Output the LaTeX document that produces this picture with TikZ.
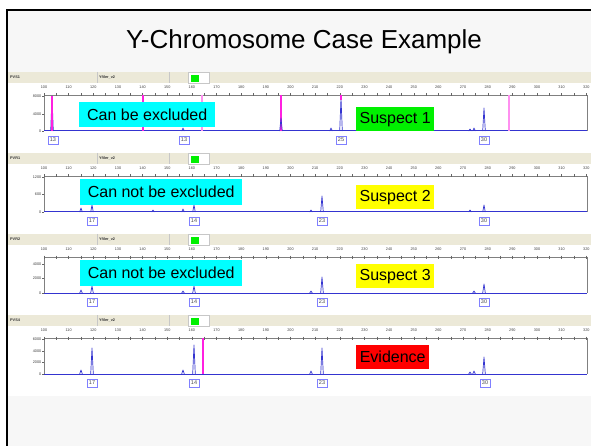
\documentclass[tikz,border=0pt]{standalone}
\usepackage{fontspec}
\setmainfont{Liberation Sans}
\definecolor{slidebg}{HTML}{F7F7F7}
\definecolor{hdr}{HTML}{ECE9D8}
\definecolor{trace}{HTML}{3434D0}
\definecolor{mag}{HTML}{FF20E0}
\definecolor{pinkl}{HTML}{FF90F0}
\definecolor{abox}{HTML}{8080FF}
\definecolor{lime}{HTML}{00F000}
\definecolor{tagcyan}{HTML}{00FFFF}
\definecolor{tagyellow}{HTML}{FFFF00}
\definecolor{tagred}{HTML}{FF0000}
\tikzset{
  tinytxt/.style={font=\fontsize{3.8}{4}\selectfont, text=black!75, inner sep=0pt},
  hdrtxt/.style={font=\fontsize{3.8}{4}\selectfont\bfseries, text=black!80, inner sep=0pt, anchor=west},
  allele/.style={draw=abox, fill=white, line width=0.8pt, font=\fontsize{5.5}{5.5}\selectfont, text=black!70, minimum width=10pt, minimum height=8pt, inner sep=0pt},
  tagbox/.style={font=\fontsize{16}{16}\selectfont, inner sep=0pt, anchor=north west},
  axisline/.style={black!50, line width=0.5pt},
  baseline/.style={trace, line width=1pt},
  magline/.style={mag, line width=1.3pt},
  pinkline/.style={pinkl, line width=1.3pt},
}
\newcommand\pk[3][trace]{\draw[#1, line width=0.7pt, line join=round] ({#2-1.3},59) -- (#2,#3) -- ({#2+1.3},59);}
\newcommand\drawpanel[2]{%
  \fill[hdr] (8,0) rectangle (591,11);
  \draw[black!22, line width=0.5pt] (97,0) -- (97,11) (169,0) -- (169,11);
  \fill[white] (188,0.5) rectangle (209,11);
  \draw[black!22, line width=0.4pt] (188,0.5) rectangle (209,11);
  \fill[lime] (191,3) rectangle (199,10);
  \node[hdrtxt] (nm#1) at (10,5) {#2};
  \node[hdrtxt] (kit#1) at (99,5) {Yfiler\_v2};
  \foreach \v in {100,110,...,320} \node[tinytxt] (tk#1-\v) at ({44+(\v-100)*2.465},15.5) {\v};
  \draw[axisline] (44,59) -- (44,23) -- (587,23) -- (587,59);
  \foreach \v in {100,105,...,320} \draw[black!60, line width=0.4pt] ({44+(\v-100)*2.465},21.5) -- ++(0,3);
  \draw[baseline] (44,59) -- (587,59);
}
\newcommand\ylab[3]{\node[tinytxt, anchor=east] (y#1) at (41.5,#2) {#3}; \draw[black!60, line width=0.4pt] (42,#2) -- (44,#2);}
\begin{document}
\begin{tikzpicture}[x=1pt,y=-1pt]
\useasboundingbox (0,0) rectangle (591,446);
\fill[white] (0,0) rectangle (591,446);
\fill[slidebg] (7,10) rectangle (591,446);
\fill[white] (8,72) rectangle (591,396);
\draw[line width=2.5pt] (7,446) -- (7,10) -- (591,10);
\node[font=\fontsize{26}{30}\selectfont, inner sep=0pt] (title) at (304,42) {Y-Chromosome Case Example};

% Panel 1
\begin{scope}[shift={(0,72)}]
  \drawpanel{1}{PVS1}
  \ylab{1a}{24}{8000} \ylab{1b}{42}{4000} \ylab{1c}{59}{0}
  \pk{52}{24} \draw[magline] (52,24) -- (52,59);
  \draw[magline] (143,23) -- (143,59);
  \draw[pinkline] (202,23) -- (202,59);
  \pk{183}{56}
  \draw[magline] (281,23) -- (281,59); \pk{281}{46}
  \pk{331}{56}
  \pk{341}{26} \draw[magline] (341,23) -- (341,28);
  \pk{470}{57} \pk{474}{56}
  \pk{484}{36}
  \draw[pinkline] (509,23) -- (509,59);
  \node[allele] (a1-1) at (53,68) {13};
  \node[allele] (a1-2) at (184,68) {13};
  \node[allele] (a1-3) at (341,68) {25};
  \node[allele] (a1-4) at (484,68) {30};
  \node[tagbox, fill=tagcyan, minimum width=136pt, minimum height=25pt] (c1) at (79,30) {Can be excluded};
  \node[tagbox, fill=lime, minimum width=78pt, minimum height=24pt] (s1) at (356,35) {Suspect 1};
\end{scope}

% Panel 2
\begin{scope}[shift={(0,153)}]
  \drawpanel{2}{PVR1}
  \ylab{2a}{24}{1200} \ylab{2b}{41.5}{600} \ylab{2c}{59}{0}
  \pk{81}{55} \pk{92}{52} \pk{153}{57} \pk{183}{56} \pk{194}{52}
  \pk{311}{57} \pk{322}{43} \pk{470}{57} \pk{484}{52}
  \node[allele] (a2-1) at (92,68) {17};
  \node[allele] (a2-2) at (194,68) {14};
  \node[allele] (a2-3) at (322,68) {23};
  \node[allele] (a2-4) at (484,68) {30};
  \node[tagbox, fill=tagcyan, minimum width=162pt, minimum height=26pt] (c2) at (80,26) {Can not be excluded};
  \node[tagbox, fill=tagyellow, minimum width=78pt, minimum height=24pt] (s2) at (356,32) {Suspect 2};
\end{scope}

% Panel 3
\begin{scope}[shift={(0,234)}]
  \drawpanel{3}{PVR2}
  \ylab{3a}{30}{4000} \ylab{3b}{44.5}{2000} \ylab{3c}{59}{0}
  \pk{81}{56} \pk{92}{52} \pk{183}{57} \pk{194}{52}
  \pk{311}{57} \pk{322}{43} \pk{474}{57} \pk{484}{50}
  \node[allele] (a3-1) at (92,68) {17};
  \node[allele] (a3-2) at (194,68) {14};
  \node[allele] (a3-3) at (322,68) {23};
  \node[allele] (a3-4) at (484,68) {30};
  \node[tagbox, fill=tagcyan, minimum width=162pt, minimum height=26pt] (c3) at (80,26) {Can not be excluded};
  \node[tagbox, fill=tagyellow, minimum width=78pt, minimum height=24pt] (s3) at (356,30) {Suspect 3};
\end{scope}

% Panel 4
\begin{scope}[shift={(0,315)}]
  \drawpanel{4}{PVS4}
  \ylab{4a}{24}{6000} \ylab{4b}{36}{4000} \ylab{4c}{47.5}{2000} \ylab{4d}{59}{0}
  \pk{81}{55} \pk{92}{33} \pk{183}{55} \pk{194}{30}
  \draw[magline] (203,23) -- (203,59);
  \pk{311}{56} \pk{322}{33} \pk{470}{57} \pk{474}{56} \pk{484}{42}
  \node[allele] (a4-1) at (92,68) {17};
  \node[allele] (a4-2) at (194,68) {14};
  \node[allele] (a4-3) at (322,68) {23};
  \node[allele] (a4-4) at (485,68) {30};
  \node[tagbox, fill=tagred, minimum width=73pt, minimum height=24pt] (ev) at (356,30) {Evidence};
\end{scope}
\end{tikzpicture}
\end{document}
